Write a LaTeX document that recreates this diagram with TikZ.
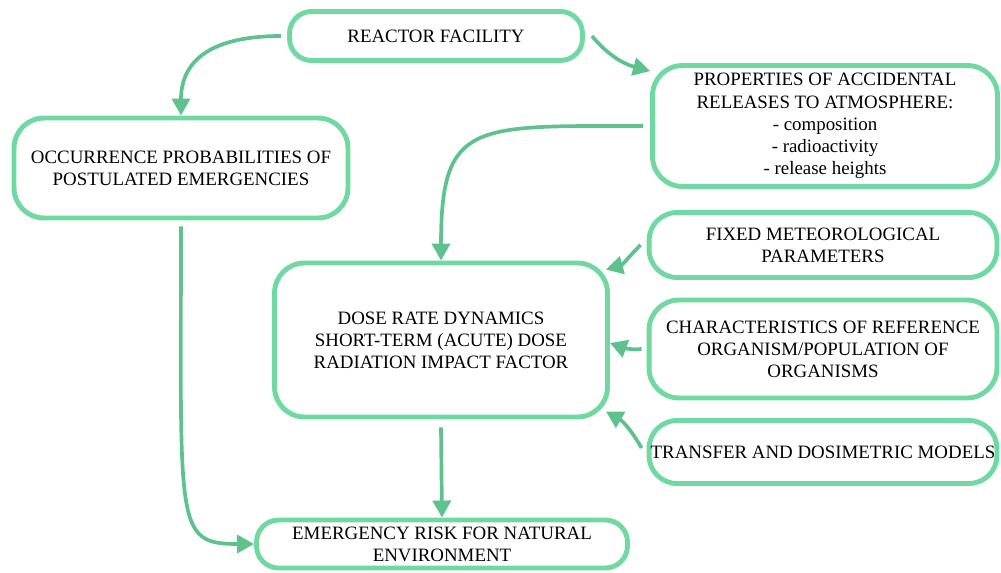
\documentclass[tikz,border=0pt]{standalone}
\usepackage{fontspec}
\setmainfont{Liberation Serif}
\usetikzlibrary{arrows.meta,positioning}
\definecolor{boxgreen}{HTML}{70D9A1}
\definecolor{argreen}{HTML}{5EC28D}

\begin{document}
\begin{tikzpicture}[
  x=0.02cm,y=0.02cm,
  font=\fontsize{10.75}{12.6}\selectfont,
  blk/.style={draw=boxgreen,line width=2.8pt,fill=white,align=center,
              inner sep=0pt,rounded corners=0.6cm},
  pill/.style={blk,rounded corners=0.44cm},
  ar/.style={-{Triangle[length=0.34cm,width=0.36cm]},draw=argreen,
             line width=2.1pt}]

\useasboundingbox (0,0) rectangle (1001,-572);

% ---- top: the facility and what it releases ------------------------------
\node[pill,minimum width=5.86cm,minimum height=0.98cm] (fac) at (436,-36)
  {REACTOR FACILITY};
\node[blk,minimum width=6.9cm,minimum height=2.42cm] (rel) at (825,-126)
  {PROPERTIES OF ACCIDENTAL\\RELEASES TO ATMOSPHERE:\\- composition\\
   - radioactivity\\- release heights};
\node[blk,minimum width=6.68cm,minimum height=2.0cm] (prob) at (181,-168)
  {OCCURRENCE PROBABILITIES OF\\POSTULATED EMERGENCIES};

% ---- middle: dose assessment and its inputs ------------------------------
\node[blk,minimum width=6.66cm,minimum height=3.08cm] (dose) at (441,-340)
  {DOSE RATE DYNAMICS\\SHORT-TERM (ACUTE) DOSE\\RADIATION IMPACT FACTOR};
\node[blk,rounded corners=0.56cm,minimum width=6.96cm,minimum height=1.3cm]
  (met) at (823,-245) {FIXED METEOROLOGICAL\\PARAMETERS};
\node[blk,minimum width=6.96cm,minimum height=1.96cm] (org) at (823,-349)
  {CHARACTERISTICS OF REFERENCE\\ORGANISM/POPULATION OF\\ORGANISMS};
\node[blk,rounded corners=0.56cm,minimum width=6.96cm,minimum height=1.26cm]
  (mod) at (823,-452) {TRANSFER AND DOSIMETRIC MODELS};

% ---- bottom: the result --------------------------------------------------
\node[pill,minimum width=7.42cm,minimum height=0.96cm] (risk) at (442,-544)
  {EMERGENCY RISK FOR NATURAL\\ENVIRONMENT};

% ---- connectors ----------------------------------------------------------
\draw[ar] ([xshift=-0.12cm]fac.west) .. controls +(-70,0) and +(0,55)
  .. (prob.north);
\draw[ar] ([xshift=0.14cm]fac.east) to[out=-50,in=165]
  ([yshift=-0.16cm]rel.north west);
\draw[ar] ([xshift=-0.14cm]rel.west) .. controls +(-170,0) and +(0,140)
  .. (dose.north);
\draw[ar] ([xshift=-0.12cm]met.west) to[out=225,in=15]
  ([xshift=-0.08cm,yshift=-0.18cm]dose.north east);
\draw[ar] ([xshift=-0.1cm]org.west) to[out=185,in=-20]
  ([yshift=-0.06cm]dose.east);
\draw[ar] ([xshift=-0.1cm,yshift=0.08cm]mod.west) to[out=120,in=-30]
  ([xshift=-0.08cm,yshift=0.16cm]dose.south east);
\draw[ar] ([yshift=-0.16cm]dose.south) -- (risk.north);
\draw[ar] ([yshift=-0.12cm]prob.south) .. controls +(0,-300) and +(-80,0)
  .. (risk.west);
\end{tikzpicture}
\end{document}
